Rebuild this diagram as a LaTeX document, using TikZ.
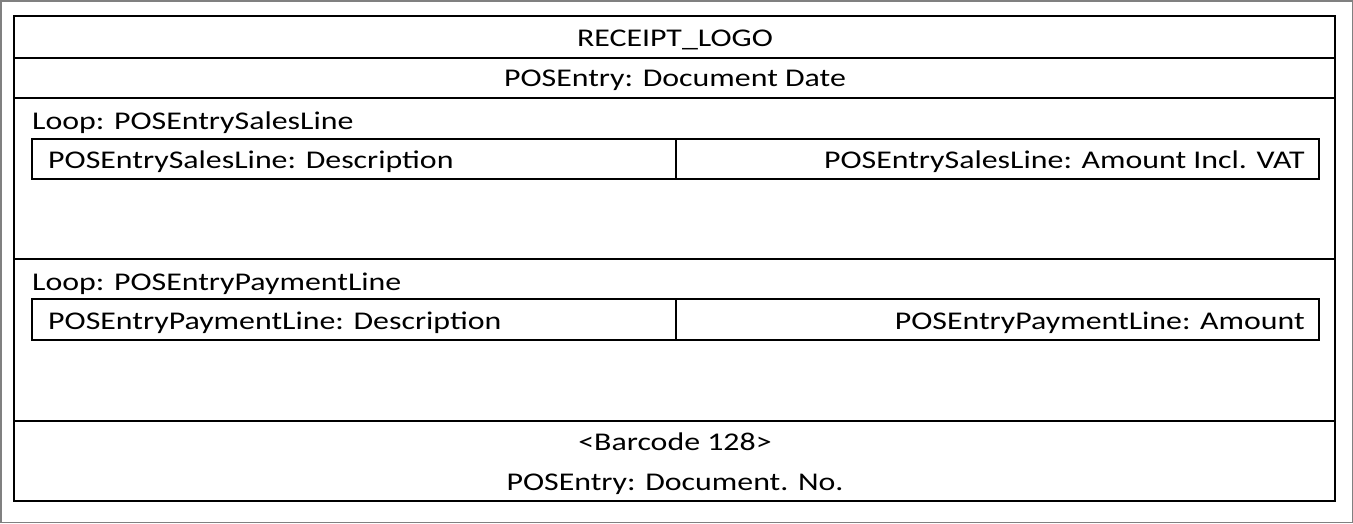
\documentclass[tikz,border=0pt]{standalone}
\usepackage{fontspec}
\setmainfont{Carlito}[FakeStretch=1.25]
\usetikzlibrary{calc}

\tikzset{
    frame/.style={draw=black, line width=1.3pt},
    field/.style={inner sep=0pt, font=\fontsize{25.5}{30}\selectfont},
}

\begin{document}
\begin{tikzpicture}[x=1pt, y=-1pt]
    \useasboundingbox (0,0) rectangle (1353,523);
    \draw [gray, line width=1.5pt] (0.75,0.75) rectangle (1352.25,522.25);

    \coordinate (B0) at (14,16);
    \coordinate (B1) at (1335,501);
    \coordinate (S0) at (32,139);
    \coordinate (S1) at (1319,179);
    \coordinate (S2) at (676,139);
    \coordinate (S3) at (676,179);
    \coordinate (P0) at (32,299);
    \coordinate (P1) at (1319,340);
    \coordinate (P2) at (676,299);
    \coordinate (P3) at (676,340);

    % outer frame and rows
    \draw [frame] (B0) rectangle (B1);
    \draw [frame] (14,58) -- (1335,58);
    \draw [frame] (14,98) -- (1335,98);
    \draw [frame] (14,259) -- (1335,259);
    \draw [frame] (14,421) -- (1335,421);

    % loop tables
    \draw [frame] (S0) rectangle (S1);
    \draw [frame] (S2) -- (S3);
    \draw [frame] (P0) rectangle (P1);
    \draw [frame] (P2) -- (P3);

    \node [field, anchor=base] (logo) at (675,46) {RECEIPT\_LOGO};
    \node [field, anchor=base] (docdate) at (675,86) {POSEntry: Document Date};
    \node [field, anchor=base west] (salesloop) at (32,129) {Loop: POSEntrySalesLine};
    \node [field, anchor=base west] (salesdesc) at (48,168) {POSEntrySalesLine: Description};
    \node [field, anchor=base east] (salesamt) at (1305,168) {POSEntrySalesLine: Amount Incl. VAT};
    \node [field, anchor=base west] (payloop) at (32,290) {Loop: POSEntryPaymentLine};
    \node [field, anchor=base west] (paydesc) at (48,329) {POSEntryPaymentLine: Description};
    \node [field, anchor=base east] (payamt) at (1305,329) {POSEntryPaymentLine: Amount};
    \node [field, anchor=base] (barcode) at (675,450) {<Barcode 128>};
    \node [field, anchor=base] (docno) at (675,490) {POSEntry: Document. No.};
\end{tikzpicture}
\end{document}
